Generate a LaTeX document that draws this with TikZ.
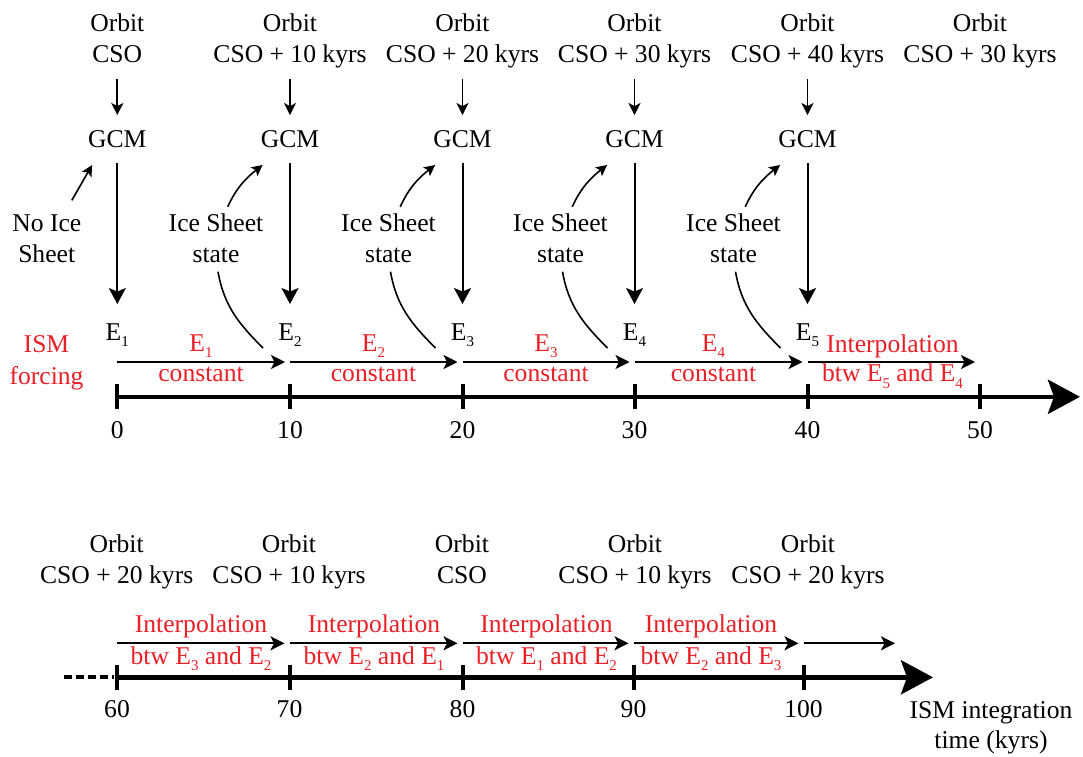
\documentclass[tikz,border=0pt]{standalone}
\usepackage{fontspec}
\setmainfont{Liberation Serif}
\usetikzlibrary{arrows.meta}
\definecolor{ismred}{RGB}{236,30,38}
\newcommand\sbx[1]{\raisebox{-6.5pt}{\fontsize{15}{15}\selectfont #1}}
\begin{document}
\begin{tikzpicture}[x=1pt,y=1pt,
  every node/.style={inner sep=0pt,anchor=base,font=\fontsize{25.6}{32}\selectfont},
  redtext/.style={text=ismred},
  conn/.style={line width=1.8pt,-{Stealth[length=12pt,width=12pt,inset=3pt]}},
  longarr/.style={line width=2pt,-{Stealth[length=16pt,width=17pt,inset=3.5pt]}},
  smallarr/.style={line width=1.6pt,-{Stealth[length=11pt,width=11pt,inset=2.5pt]}},
  hor/.style={line width=2pt,-{Stealth[length=14pt,width=14pt,inset=3.5pt]}},
  curveline/.style={line width=1.6pt},
  axisline/.style={line width=4.5pt,-{Stealth[length=32pt,width=34pt,inset=6pt]}},
  tickmark/.style={line width=4pt},
]
\useasboundingbox (0,0) rectangle (1083,-756);

% ---------- top part ----------
\foreach \i/\x/\t/\n in {1/117.3/CSO/0,2/290/CSO + 10 kyrs/10,3/462.5/CSO + 20 kyrs/20,4/634.5/CSO + 30 kyrs/30,5/807.5/CSO + 40 kyrs/40,6/980/CSO + 30 kyrs/50}{
  \node (orb\i) at (\x,-31) {Orbit};
  \node (cso\i) at (\x,-62.7) {\t};
  \coordinate (tk\i) at (\x,-396.8);
  \coordinate (h\i) at (\x,-362);
  \node (lab\i) at (\x,-438.3) {\n};
}
\coordinate (tend) at (1080,-396.8);

\foreach \i/\x in {1/117.3,2/290,3/462.5,4/634.5,5/807.5}{
  \node (gcm\i) at (\x,-147.7) {GCM};
  \node (e\i) at (\x,-340) {E\sbx{\i}};
  \draw[conn] ([yshift=-16.3]cso\i.base) -- ([yshift=15.5]gcm\i.north);
  \draw[longarr] ([yshift=-15.3]gcm\i.base) -- ([yshift=19]e\i.north);
}

% No ice sheet
\node (noa) at (46.8,-231.7) {No Ice};
\node (nob) at (46.7,-262.7) {Sheet};
\draw[smallarr] ([xshift=25,yshift=14.4]noa.north) -- ([xshift=4.2,yshift=-17.3]gcm1.base west);

% Ice sheet state
\foreach \i/\x in {2/216,3/388.5,4/560.5,5/733.5}{
  \node (isa\i) at (\x,-231.7) {Ice Sheet};
  \node (isb\i) at (\x,-262.7) {state};
  \draw[smallarr] ([xshift=11.7,yshift=7]isa\i.north) to[out=65,in=-142] ([xshift=2,yshift=-17.3]gcm\i.base west);
  \draw[curveline] ([xshift=2,yshift=-9]isb\i.base) to[out=-80,in=135] ([xshift=-27,yshift=14]h\i);
}

% forcing arrows
\foreach \i/\j in {1/2,2/3,3/4,4/5,5/6}{
  \draw[hor] (h\i) -- ([xshift=-5]h\j);
}
\node[redtext] (ism1) at (46.5,-352.3) {ISM};
\node[redtext] (ism2) at (46.5,-384) {forcing};
\foreach \k/\x in {1/201,2/373.5,3/546,4/713.5}{
  \node[redtext] (ra\k) at (\x,-351) {E\sbx{\k}};
  \node[redtext] (rb\k) at (\x,-381) {constant};
}
\node[redtext] (ra5) at (892.5,-352.5) {Interpolation};
\node[redtext] (rb5) at (892.5,-381.7) {btw E\sbx{5} and E\sbx{4}};

% axis
\draw[axisline] (tk1) -- (tend);
\foreach \i in {1,...,6}{
  \draw[tickmark] ([yshift=12.5]tk\i) -- ([yshift=-12]tk\i);
}

% ---------- bottom part ----------
\foreach \i/\x/\ox/\t/\n in {1/117/116.7/CSO + 20 kyrs/60,2/289.5/289/CSO + 10 kyrs/70,3/462.5/462/CSO/80,4/633.5/635/CSO + 10 kyrs/90,5/803.5/808/CSO + 20 kyrs/100}{
  \node (borb\i) at (\ox,-552.3) {Orbit};
  \node (bcso\i) at (\ox,-583.3) {\t};
  \coordinate (btk\i) at (\x,-677.3);
  \coordinate (bh\i) at (\x,-643.3);
  \node (blab\i) at (\x,-717.3) {\n};
}
\coordinate (bend) at (933,-677.3);
\coordinate (bhend) at (895,-643.3);
\coordinate (dstart) at (64,-677.3);

\foreach \i/\j in {1/2,2/3,3/4,4/5}{
  \draw[hor] (bh\i) -- ([xshift=-5]bh\j);
}
\draw[hor] (bh5) -- (bhend);

\foreach \k/\x/\a/\b in {1/201/3/2,2/374/2/1,3/546.5/1/2,4/711/2/3}{
  \node[redtext] (bra\k) at (\x,-632) {Interpolation};
  \node[redtext] (brb\k) at (\x,-664) {btw E\sbx{\a} and E\sbx{\b}};
}

\draw[line width=4pt,dash pattern=on 7.5pt off 4.5pt] (dstart) -- ([xshift=-3]btk1);
\draw[axisline] (btk1) -- (bend);
\foreach \i in {1,...,5}{
  \draw[tickmark] ([yshift=12.5]btk\i) -- ([yshift=-12.5]btk\i);
}
\node (isma) at (991,-718.3) {ISM integration};
\node (ismb) at (991,-748.3) {time (kyrs)};
\end{tikzpicture}
\end{document}
